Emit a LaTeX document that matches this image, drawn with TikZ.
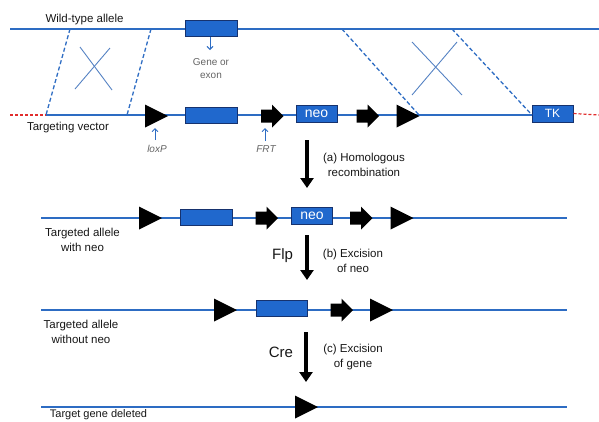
\documentclass[tikz,border=0pt]{standalone}
\usepackage{fontspec}
\setmainfont{Liberation Sans}
\usetikzlibrary{arrows.meta}
\definecolor{lnblue}{RGB}{45,108,195}
\definecolor{boxblue}{RGB}{32,104,205}
\definecolor{boxedge}{RGB}{22,50,110}
\definecolor{txt}{RGB}{22,22,22}
\definecolor{graytxt}{RGB}{100,100,100}
\definecolor{xblue}{RGB}{85,130,195}
\definecolor{vecred}{RGB}{225,45,45}
\tikzset{
  dna/.style={draw=lnblue, line width=1.9pt},
  reddash/.style={draw=vecred, line width=1.2pt, dash pattern=on 3pt off 2pt},
  crossdash/.style={draw=lnblue, line width=1.3pt, dash pattern=on 4pt off 2.5pt},
  xline/.style={draw=xblue, line width=0.9pt},
  genebox/.style={draw=boxedge, fill=boxblue, line width=1pt, minimum width=52pt, minimum height=16pt, inner sep=0pt, text=white},
  markerbox/.style={genebox, minimum width=41pt, minimum height=17pt, font=\fontsize{14}{14}\selectfont},
  lbl/.style={text=txt, font=\fontsize{11.5}{15}\selectfont, inner sep=0pt, align=center},
  graylbl/.style={text=graytxt, font=\fontsize{10}{13}\selectfont, inner sep=0pt, align=center},
  sitelbl/.style={text=graytxt, font=\fontsize{10}{12}\selectfont\itshape, inner sep=0pt},
  enzlbl/.style={text=txt, font=\fontsize{15}{16}\selectfont, inner sep=0pt},
  thinarrow/.style={draw=lnblue, line width=0.9pt, -{Straight Barb[length=3pt,width=6pt]}},
  bigarrow/.style={draw=black, line width=4pt, -{Triangle[length=10pt,width=13pt]}},
  loxpsite/.pic={\fill[black] (-11.5,-11.5) -- (11.5,0) -- (-11.5,11.5) -- cycle;},
  frtsite/.pic={\fill[black] (-11,-6.5) -- (0,-6.5) -- (0,-11.5) -- (11.5,0) -- (0,11.5) -- (0,6.5) -- (-11,6.5) -- cycle;}
}
\begin{document}
\begin{tikzpicture}[x=1pt,y=-1pt]
\useasboundingbox (0,0) rectangle (599,421);

% ---------- Row 1: wild-type allele
\coordinate (r1a) at (10,29);
\coordinate (r1b) at (599,29);
\draw[dna] (r1a) -- (r1b);
\node[lbl] (wt) at (84.5,20) {Wild-type allele};
\node[genebox] (g1) at (211,28.5) {};
\coordinate (g1arr) at (210,50);
\draw[thinarrow] (g1.south -| g1arr) -- (g1arr);
\node[graylbl] (g1t) at (211,68.5) {Gene or\\exon};

% ---------- Row 2: targeting vector
\coordinate (r2a) at (10,115);
\coordinate (r2b) at (46,115);
\coordinate (r2c) at (532,115);
\coordinate (r2d) at (599,115);
\draw[reddash] (r2a) -- (r2b);
\draw[dna] (r2b) -- (r2c);
\node[markerbox, font=\fontsize{12}{12}\selectfont] (tk) at (552.5,113.5) {TK};
\draw[reddash] (tk.east) -- (r2d);
\node[lbl] (tv) at (68,128) {Targeting vector};
\pic at (156.5,116) {loxpsite};
\node[genebox] (g2) at (211,115) {};
\pic at (272,116) {frtsite};
\node[markerbox] (neo2) at (316.5,113.5) {neo};
\pic at (367.5,116) {frtsite};
\pic at (408,116) {loxpsite};

% loxP / FRT labels
\coordinate (lxa) at (155,140);
\coordinate (lxb) at (155,128);
\draw[thinarrow] (lxa) -- (lxb);
\node[sitelbl] (lx) at (157,149) {loxP};
\coordinate (fra) at (265,141);
\coordinate (frb) at (265,128);
\draw[thinarrow] (fra) -- (frb);
\node[sitelbl] (fr) at (266,149) {FRT};

% crossovers (left)
\coordinate (c1t) at (70,29);   \coordinate (c1b) at (46,115);
\coordinate (c2t) at (151,29);  \coordinate (c2b) at (127,115);
\draw[crossdash] (c1t) -- (c1b);
\draw[crossdash] (c2t) -- (c2b);
\coordinate (x1a) at (80,47);  \coordinate (x1b) at (112,90);
\coordinate (x1c) at (110,48); \coordinate (x1d) at (75,89);
\draw[xline] (x1a) -- (x1b);
\draw[xline] (x1c) -- (x1d);
% crossovers (right)
\coordinate (c3t) at (342,29);  \coordinate (c3b) at (419,115);
\coordinate (c4t) at (452,29);  \coordinate (c4b) at (532,115);
\draw[crossdash] (c3t) -- (c3b);
\draw[crossdash] (c4t) -- (c4b);
\coordinate (x2a) at (412,42); \coordinate (x2b) at (462,95);
\coordinate (x2c) at (457,42); \coordinate (x2d) at (412,95);
\draw[xline] (x2a) -- (x2b);
\draw[xline] (x2c) -- (x2d);

% ---------- step (a)
\coordinate (aa) at (307,140);
\coordinate (ab) at (307,188);
\draw[bigarrow] (aa) -- (ab);
\node[lbl] (at) at (364,164.5) {(a) Homologous\\recombination};

% ---------- Row 3: targeted allele with neo
\coordinate (r3a) at (41,218);
\coordinate (r3b) at (567,218);
\draw[dna] (r3a) -- (r3b);
\node[lbl] (t3) at (82.5,240) {Targeted allele\\with neo};
\pic at (150.5,218) {loxpsite};
\node[genebox] (g3) at (206,217.5) {};
\pic at (266.5,218) {frtsite};
\node[markerbox] (neo3) at (312,216) {neo};
\pic at (361,218) {frtsite};
\pic at (402,218) {loxpsite};

% ---------- step (b)
\coordinate (ba) at (307,235);
\coordinate (bb) at (307,280);
\draw[bigarrow] (ba) -- (bb);
\node[enzlbl] (flp) at (282.5,256) {Flp};
\node[lbl] (bt) at (353,261) {(b) Excision\\of neo};

% ---------- Row 4: targeted allele without neo
\coordinate (r4a) at (41,310);
\coordinate (r4b) at (567,310);
\draw[dna] (r4a) -- (r4b);
\node[lbl] (t4) at (81,331.5) {Targeted allele\\without neo};
\pic at (225.5,310) {loxpsite};
\node[genebox, minimum width=51pt] (g4) at (281.5,308.5) {};
\pic at (341.5,310) {frtsite};
\pic at (381.5,310) {loxpsite};

% ---------- step (c)
\coordinate (ca) at (306,332);
\coordinate (cb) at (306,382);
\draw[bigarrow] (ca) -- (cb);
\node[enzlbl] (cre) at (281,352) {Cre};
\node[lbl] (ct) at (353,357) {(c) Excision\\of gene};

% ---------- Row 5: target gene deleted
\coordinate (r5a) at (41,407);
\coordinate (r5b) at (567,407);
\draw[dna] (r5a) -- (r5b);
\pic at (306.5,407) {loxpsite};
\node[lbl, font=\fontsize{11}{13}\selectfont] (t5) at (98.5,414.5) {Target gene deleted};
\end{tikzpicture}
\end{document}
